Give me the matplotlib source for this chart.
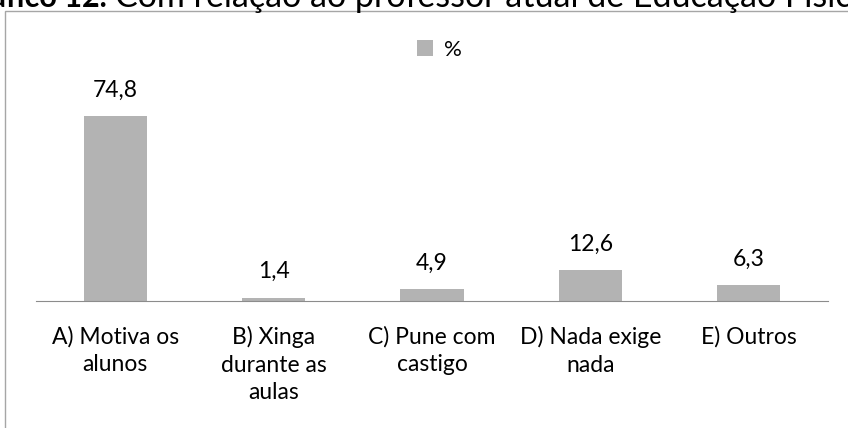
import matplotlib
matplotlib.use("Agg")
import matplotlib.pyplot as plt
from matplotlib.patches import Rectangle, Patch

categorias = ["A) Motiva os\nalunos", "B) Xinga\ndurante as\naulas", "C) Pune com\ncastigo",
              "D) Nada exige\nnada", "E) Outros"]
valores = [74.8, 1.4, 4.9, 12.6, 6.3]
rotulos = ["74,8", "1,4", "4,9", "12,6", "6,3"]

W, H = 848, 428
fig = plt.figure(figsize=(W / 100, H / 100), dpi=100)

# moldura do gráfico (cortada à direita e embaixo)
fig.add_artist(Rectangle((5 / W, -0.2), 2, 1 - 11 / H + 0.2, transform=fig.transFigure,
                         fill=False, edgecolor="#a6a6a6", lw=1))

# título cortado no topo
fig.text(107 / W, 1 - 7 / H, "Gráfico 12.", ha="right", va="baseline",
         fontsize=22, fontweight="bold", family="Lato")
fig.text(115 / W, 1 - 7 / H, "Com relação ao professor atual de Educação Física:",
         ha="left", va="baseline", fontsize=24.5, family="Lato")

ax = fig.add_axes([36 / W, 1 - 301 / H, (828 - 36) / W, (301 - 103) / H])
x = range(len(valores))
ax.bar(x, valores, width=0.4, color="#b3b3b3")
ax.set_xlim(-0.5, len(valores) - 0.5)
ax.set_ylim(0, 80)

for xi, v, r in zip(x, valores, rotulos):
    ax.annotate(r, (xi, v), xytext=(0, 11), textcoords="offset points",
                ha="center", va="bottom", fontsize=16.5, family="Lato", annotation_clip=False)

ax.set_xticks(list(x))
ax.set_xticklabels(categorias, fontsize=16.5, family="Lato", linespacing=1.38)
ax.tick_params(axis="x", length=0, pad=18)
ax.set_yticks([])
for s in ["top", "right", "left"]:
    ax.spines[s].set_visible(False)
ax.spines["bottom"].set_color("#8c8c8c")

fig.legend(handles=[Patch(facecolor="#b3b3b3", label="%")], loc="center",
           bbox_to_anchor=(0.518, 1 - 50 / H), frameon=False, handlelength=0.7,
           handleheight=0.7, handletextpad=0.5, prop={"family": "Lato", "size": 16})

fig.savefig("out.png", dpi=100)
plt.close(fig)
